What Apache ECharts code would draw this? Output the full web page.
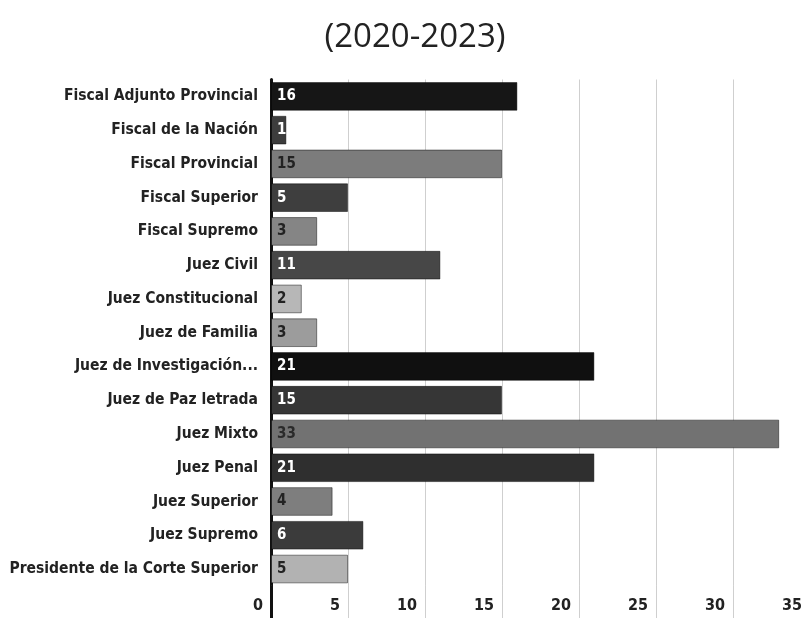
<!DOCTYPE html>
<html>
<head>
<meta charset="utf-8">
<script src="https://cdn.jsdelivr.net/npm/echarts@6/dist/echarts.min.js"></script>
<style>
html,body{margin:0;padding:0;background:#fff;}
#chart{width:804px;height:618px;}
</style>
</head>
<body>
<div id="chart"></div>
<script>
const titleText = '(2020-2023)';
const categories = [
  'Fiscal Adjunto Provincial', 'Fiscal de la Nación', 'Fiscal Provincial', 'Fiscal Superior',
  'Fiscal Supremo', 'Juez Civil', 'Juez Constitucional', 'Juez de Familia',
  'Juez de Investigación...', 'Juez de Paz letrada', 'Juez Mixto', 'Juez Penal',
  'Juez Superior', 'Juez Supremo', 'Presidente de la Corte Superior'
];
const values = [16, 1, 15, 5, 3, 11, 2, 3, 21, 15, 33, 21, 4, 6, 5];
const xTicks = [0, 5, 10, 15, 20, 25, 30, 35];

// styles (kept separate from the data)
const barColors = ['#161616', '#3d3d3d', '#7c7c7c', '#3e3e3e', '#858585', '#474747', '#b7b7b7', '#9c9c9c',
                   '#101010', '#363636', '#727272', '#2f2f2f', '#7e7e7e', '#3b3b3b', '#b2b2b2'];
const labelColors = ['#fff', '#fff', '#222', '#fff', '#222', '#fff', '#222', '#222',
                     '#fff', '#fff', '#2a2a2a', '#fff', '#222', '#fff', '#222'];

const FONT = '"Liberation Sans Narrow", "DejaVu Sans Condensed", "Roboto", sans-serif';

const chart = echarts.init(document.getElementById('chart'), null, {renderer: 'canvas'});

const data = values.map((v, i) => ({
  value: v,
  itemStyle: {color: barColors[i], borderColor: 'rgba(0,0,0,0.45)', borderWidth: 1},
  label: {color: labelColors[i]}
}));

chart.setOption({
  animation: false,
  backgroundColor: '#fff',
  title: {
    text: titleText,
    left: 410, top: 16, textAlign: 'center',
    textStyle: {fontFamily: '"Open Sans", sans-serif', fontSize: 33, fontWeight: 'normal', color: '#222'}
  },
  grid: {left: 271, top: 79.5, width: 539, height: 506.4, containLabel: false, outerBoundsMode: 'none'},
  xAxis: [{
    type: 'value', min: xTicks[0], max: xTicks[xTicks.length - 1], interval: 5,
    axisLine: {show: false},
    axisTick: {show: true, length: 34, lineStyle: {color: '#cfcfcf', width: 1}},
    splitLine: {show: true, lineStyle: {color: '#cfcfcf', width: 1}},
    axisLabel: {
      color: '#222', fontFamily: FONT, fontSize: 16, fontWeight: 'bold',
      align: 'right', margin: 12, padding: [0, 8, 0, 0]
    }
  }, {
    type: 'value', min: xTicks[0], max: xTicks[xTicks.length - 1], position: 'bottom',
    axisLine: {show: false},
    axisTick: {show: true, length: 34, customValues: [0], lineStyle: {color: '#111', width: 3}},
    splitLine: {show: false},
    axisLabel: {show: false}
  }],
  yAxis: {
    type: 'category', data: categories, inverse: true,
    axisLine: {show: true, lineStyle: {color: '#111', width: 3}},
    axisTick: {show: false},
    axisLabel: {color: '#222', fontFamily: FONT, fontSize: 15.5, fontWeight: 'bold', margin: 13}
  },
  series: [{
    type: 'bar', data: data, barWidth: '85%', xAxisIndex: 0,
    label: {
      show: true, position: 'insideLeft', distance: 6,
      fontFamily: FONT, fontSize: 15, fontWeight: 'bold'
    }
  }]
});
</script>
</body>
</html>
